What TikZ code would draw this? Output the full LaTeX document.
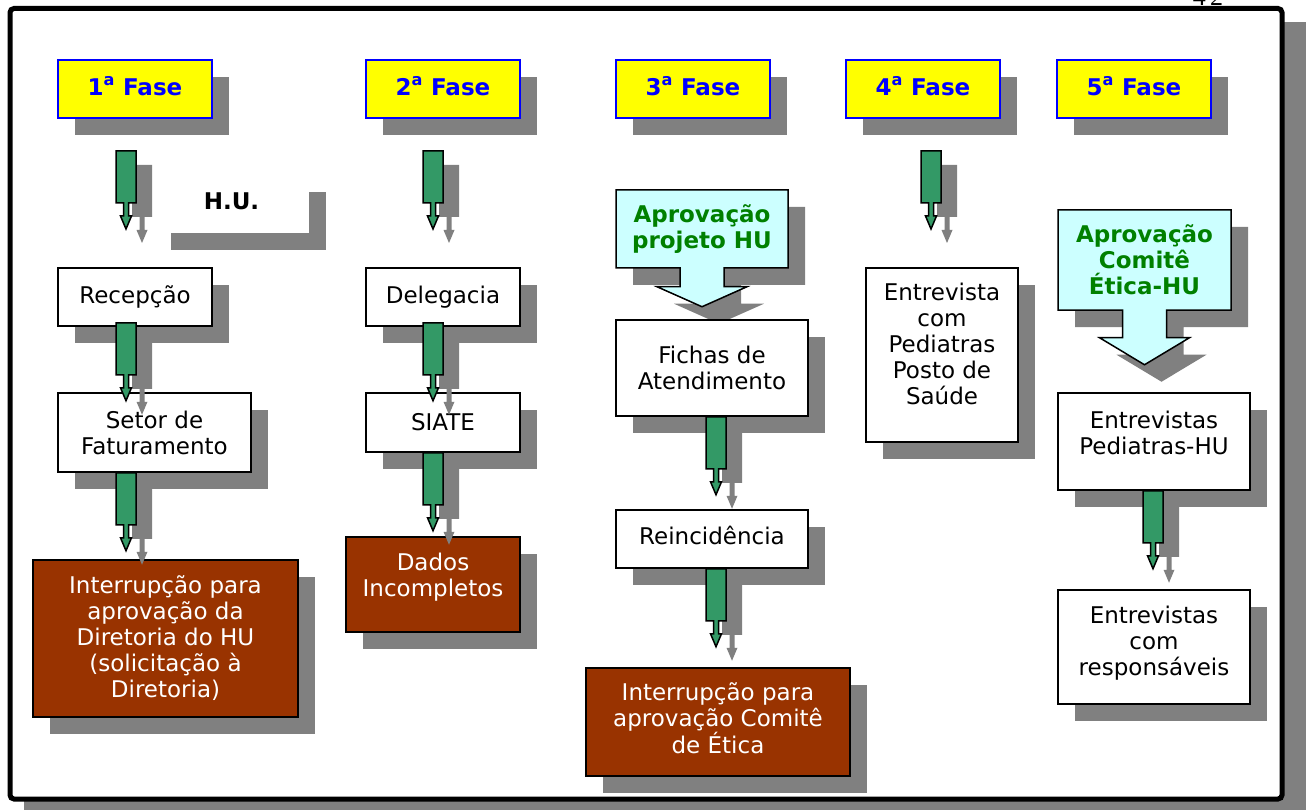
\documentclass[tikz,border=0pt]{standalone}
\usepackage{fontspec}
\setmainfont{DejaVu Sans}
\newfontfamily\pagefont{Liberation Serif}
\usetikzlibrary{calc,shadows,shapes.arrows}
\definecolor{faseBlue}{RGB}{0,0,255}
\definecolor{faseYellow}{RGB}{255,255,0}
\definecolor{setaGreen}{RGB}{51,153,102}
\definecolor{caixaBrown}{RGB}{153,51,0}
\definecolor{balaoCyan}{RGB}{204,255,255}
\definecolor{textoGreen}{RGB}{0,128,0}
\definecolor{sombraGray}{RGB}{128,128,128}

\begin{document}
\begin{tikzpicture}[x=1pt,y=-1pt,
  sombra/.style={drop shadow={shadow xshift=17pt,shadow yshift=-17pt,opacity=1,fill=sombraGray}},
  fase/.style={rectangle,draw=faseBlue,fill=faseYellow,line width=2pt,text=faseBlue,
               minimum width=154pt,minimum height=58pt,text depth=6pt,
               font=\fontsize{23}{26}\selectfont\bfseries,sombra},
  caixa/.style={rectangle,draw=black,fill=white,line width=1.5pt,align=center,inner sep=2pt,
                font=\fontsize{23}{26}\selectfont,sombra},
  marrom/.style={caixa,fill=caixaBrown,text=white},
  balao/.style={arrow box,arrow box shaft width=44pt,arrow box head extend=23pt,
                arrow box head indent=0pt,draw=black,fill=balaoCyan,line width=1.5pt,
                text=textoGreen,align=center,inner sep=2pt,
                font=\fontsize{23}{26}\selectfont\bfseries,sombra},
  seta/.pic={
    \path[draw=black,fill=setaGreen,line width=1.5pt,
          drop shadow={shadow xshift=16pt,shadow yshift=-14pt,opacity=1,fill=sombraGray}]
      (-10,0) -- (10,0) -- (10,52) -- (2.5,52) -- (2.5,65) -- (5.5,65) -- (0,78)
      -- (-5.5,65) -- (-2.5,65) -- (-2.5,52) -- (-10,52) -- cycle;
  }
]
  \useasboundingbox (0,0) rectangle (1306,810);

  % moldura
  \fill[sombraGray] (24,22) rectangle (1316,820);
  \node[font=\pagefont\fontsize{26}{30}\selectfont,anchor=base](pag) at (1208,6) {4\,2};
  \draw[line width=5pt,fill=white,rounded corners=4pt] (10,8.5) rectangle (1282,799);

  % fases
  \node[fase](f1) at (135,89)  {1\textsuperscript{a} Fase};
  \node[fase](f2) at (443,89)  {2\textsuperscript{a} Fase};
  \node[fase](f3) at (693,89)  {3\textsuperscript{a} Fase};
  \node[fase](f4) at (923,89)  {4\textsuperscript{a} Fase};
  \node[fase](f5) at (1134,89) {5\textsuperscript{a} Fase};

  % 1a fase
  \node[caixa,draw=none,minimum width=155pt,minimum height=58pt,text depth=6pt,
        font=\fontsize{23}{26}\selectfont\bfseries](hu) at (231.5,204) {H.U.};
  \node[caixa,minimum width=154pt,minimum height=58pt](rec) at (135,297) {Recepção};
  \node[caixa,minimum width=193pt,minimum height=79pt](set) at (154.5,432.5) {Setor de\\Faturamento};
  \node[marrom,minimum width=265pt,minimum height=157pt](int1) at (165.5,638.5)
       {Interrupção para\\aprovação da\\Diretoria do HU\\(solicitação à\\Diretoria)};

  % 2a fase
  \node[caixa,minimum width=154pt,minimum height=58pt](del) at (443,297) {Delegacia};
  \node[caixa,minimum width=154pt,minimum height=59pt](siate) at (443,422.5) {SIATE};
  \node[marrom,minimum width=174pt,minimum height=95pt,text depth=19pt](dados) at (433,584.5)
       {Dados\\Incompletos};

  % 3a fase
  \node[balao,minimum width=172pt,minimum height=78pt,arrow box tip angle=132,
        arrow box arrows={south:38pt}](ap3) at (702,229) {Aprovação\\projeto HU};
  \node[caixa,minimum width=192pt,minimum height=96pt](fichas) at (712,368) {Fichas de\\Atendimento};
  \node[caixa,minimum width=192pt,minimum height=58pt,text depth=8pt](reinc) at (712,539) {Reincidência};
  \node[marrom,minimum width=264pt,minimum height=108pt,text depth=8pt](int3) at (718,722)
       {Interrupção para\\aprovação Comitê\\de Ética};

  % 4a fase
  \node[caixa,minimum width=152pt,minimum height=174pt,text depth=22pt](entrev) at (942,355)
       {Entrevista\\com\\Pediatras\\Posto de\\Saúde};

  % 5a fase
  \node[balao,minimum width=173pt,minimum height=100pt,arrow box tip angle=118,
        arrow box arrows={south:54pt}](ap5) at (1144.5,260) {Aprovação\\Comitê\\Ética-HU};
  \node[caixa,minimum width=192pt,minimum height=97pt,text depth=17pt](entped) at (1154,441.5)
       {Entrevistas\\Pediatras-HU};
  \node[caixa,minimum width=192pt,minimum height=114pt,text depth=13pt](entresp) at (1154,647)
       {Entrevistas\\com\\responsáveis};

  % setas
  \pic at ($(f1.south)+(-9,32)$) {seta};
  \pic at ($(rec.south)+(-9,-4)$) {seta};
  \pic at ($(set.south)+(-28.5,0)$) {seta};
  \pic at ($(f2.south)+(-10,32)$) {seta};
  \pic at ($(del.south)+(-10,-4)$) {seta};
  \pic at ($(siate.south)+(-10,0)$) {seta};
  \pic at ($(fichas.south)+(4,0)$) {seta};
  \pic at ($(reinc.south)+(4,0)$) {seta};
  \pic at ($(f4.south)+(8,32)$) {seta};
  \pic at ($(entped.south)+(-1,0)$) {seta};
\end{tikzpicture}
\end{document}
